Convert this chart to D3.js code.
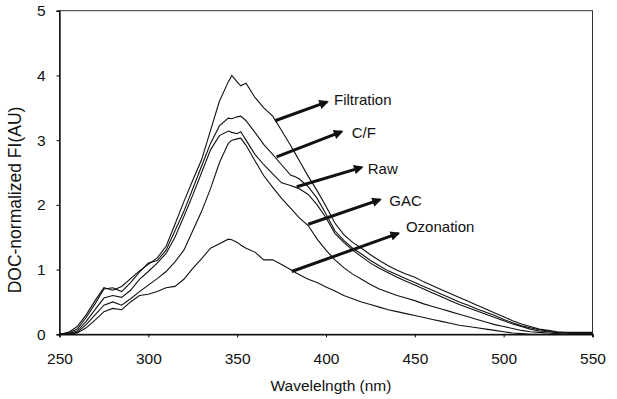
<!DOCTYPE html>
<html><head><meta charset="utf-8">
<script src="https://cdn.jsdelivr.net/npm/d3@7"></script>
<style>body{margin:0;background:#fff}text{font-family:Arial,"Liberation Sans",sans-serif;fill:#111}</style>
</head><body><svg id="c" width="617" height="399"></svg>
<script>
const wavelengths = [250,255,260,265,270,275,280,285,290,295,300,305,310,315,320,325,330,335,340,345,347,350,352,355,360,365,370,375,380,383,385,390,395,400,405,410,415,420,425,430,435,440,445,450,455,460,465,470,475,480,485,490,495,500,505,510,515,520,525,530,535,540,545,550];
const filtration = [0,0.03,0.12,0.3,0.52,0.72,0.68,0.74,0.86,0.98,1.08,1.18,1.36,1.7,2.05,2.38,2.7,3.15,3.6,3.9,4.0,3.9,3.84,3.88,3.66,3.5,3.37,3.15,2.92,2.78,2.68,2.44,2.22,1.98,1.72,1.54,1.42,1.33,1.23,1.14,1.06,0.99,0.93,0.88,0.81,0.75,0.69,0.63,0.57,0.51,0.45,0.39,0.33,0.27,0.21,0.16,0.12,0.08,0.06,0.04,0.03,0.03,0.03,0.03];
const cf = [0,0.02,0.08,0.26,0.47,0.7,0.72,0.66,0.8,0.96,1.1,1.14,1.3,1.6,1.9,2.25,2.6,2.95,3.22,3.34,3.33,3.36,3.37,3.3,3.12,2.93,2.78,2.62,2.46,2.43,2.4,2.28,2.1,1.86,1.6,1.45,1.33,1.24,1.14,1.06,0.98,0.92,0.86,0.8,0.74,0.68,0.62,0.56,0.5,0.45,0.39,0.34,0.29,0.23,0.18,0.13,0.1,0.07,0.05,0.03,0.02,0.02,0.01,0.01];
const raw = [0,0.01,0.05,0.2,0.38,0.56,0.6,0.57,0.68,0.85,0.97,1.1,1.25,1.5,1.82,2.15,2.5,2.85,3.07,3.14,3.12,3.1,3.13,3.0,2.78,2.62,2.48,2.34,2.3,2.27,2.25,2.16,2.0,1.8,1.56,1.42,1.3,1.2,1.1,1.02,0.95,0.88,0.82,0.76,0.7,0.64,0.58,0.52,0.46,0.41,0.36,0.31,0.26,0.21,0.16,0.12,0.08,0.05,0.04,0.03,0.02,0.01,0.01,0];
const gac = [0,0,0.03,0.15,0.3,0.45,0.5,0.45,0.55,0.66,0.76,0.86,0.97,1.12,1.3,1.6,1.9,2.25,2.65,2.95,3.0,3.02,3.03,2.92,2.68,2.45,2.27,2.1,1.95,1.86,1.8,1.68,1.47,1.3,1.15,1.03,0.93,0.85,0.77,0.7,0.65,0.6,0.56,0.52,0.47,0.43,0.39,0.35,0.31,0.27,0.23,0.19,0.15,0.12,0.09,0.06,0.04,0.03,0.02,0.01,0,0,0,0];
const ozonation = [0,0,0.02,0.1,0.22,0.35,0.4,0.38,0.5,0.6,0.62,0.66,0.72,0.74,0.85,1.02,1.17,1.33,1.4,1.47,1.46,1.42,1.38,1.33,1.27,1.15,1.15,1.08,1.0,0.95,0.92,0.85,0.8,0.73,0.67,0.6,0.55,0.5,0.46,0.42,0.38,0.35,0.32,0.29,0.26,0.23,0.2,0.17,0.14,0.12,0.1,0.08,0.06,0.04,0.02,0.01,0,0,0,0,0,0,0,0];
const xTicks = [250,300,350,400,450,500,550];
const yTicks = [0,1,2,3,4,5];
// annotation labels, arrow tail / head in data units
const labels = ["Filtration","C/F","Raw","GAC","Ozonation"];
const tailX = [371.3,372.2,383.5,390.0,380.7];
const tailY = [3.30,2.74,2.28,1.70,0.97];
const headX = [400.6,408.8,420.1,430.4,440.7];
const headY = [3.59,3.13,2.58,2.08,1.56];
const labelX = [404.5,414.5,423.5,435.6,445.0];
const labelY = [3.62,3.11,2.56,2.06,1.66];

const series = [filtration, cf, raw, gac, ozonation];
const svg = d3.select("#c");
const x = d3.scaleLinear().domain([250,550]).range([59.5,592.5]);
const y = d3.scaleLinear().domain([0,5]).range([334.3,10.7]);

// frame
svg.append("rect").attr("x",x(250)).attr("y",y(5)).attr("width",x(550)-x(250)).attr("height",y(0)-y(5))
  .attr("fill","none").attr("stroke","#333").attr("stroke-width",1);

const xa = svg.append("g").attr("transform",`translate(0,${y(0)})`)
  .call(d3.axisBottom(x).tickValues(xTicks).tickFormat(d3.format("d")).tickSize(3).tickPadding(16));
xa.select(".domain").attr("stroke","#111").attr("stroke-width",1.6);
xa.selectAll("text").attr("font-size",15.5).attr("fill","#111");
const ya = svg.append("g").attr("transform",`translate(${x(250)},0)`)
  .call(d3.axisLeft(y).tickValues(yTicks).tickFormat(d3.format("d")).tickSize(3).tickPadding(11));
ya.select(".domain").attr("stroke","#111").attr("stroke-width",1.4);
ya.selectAll("text").attr("font-size",15.5).attr("fill","#111");

const line = d3.line().x((d,i)=>x(wavelengths[i])).y(d=>y(d));
svg.selectAll("path.s").data(series).enter().append("path").attr("class","s")
  .attr("d",line).attr("fill","none").attr("stroke","#111").attr("stroke-width",1.1);

svg.append("defs").append("marker").attr("id","ah").attr("viewBox","0 0 10 10")
  .attr("refX",8).attr("refY",5).attr("markerWidth",3.4).attr("markerHeight",3.2)
  .attr("orient","auto").attr("markerUnits","strokeWidth")
  .append("path").attr("d","M0,0 L10,5 L0,10 z").attr("fill","#111");

labels.forEach((t,i)=>{
  svg.append("line").attr("x1",x(tailX[i])).attr("y1",y(tailY[i]))
    .attr("x2",x(headX[i])).attr("y2",y(headY[i]))
    .attr("stroke","#111").attr("stroke-width",3).attr("marker-end","url(#ah)");
  svg.append("text").attr("x",x(labelX[i])).attr("y",y(labelY[i])).attr("dy","0.35em")
    .attr("font-size",15).text(t);
});

svg.append("text").attr("x",331).attr("y",391).attr("text-anchor","middle").attr("font-size",15.5).text("Wavelelngth (nm)");
svg.append("text").attr("transform","translate(21,200) rotate(-90)").attr("text-anchor","middle").attr("font-size",17.5).text("DOC-normalized FI(AU)");
</script></body></html>
